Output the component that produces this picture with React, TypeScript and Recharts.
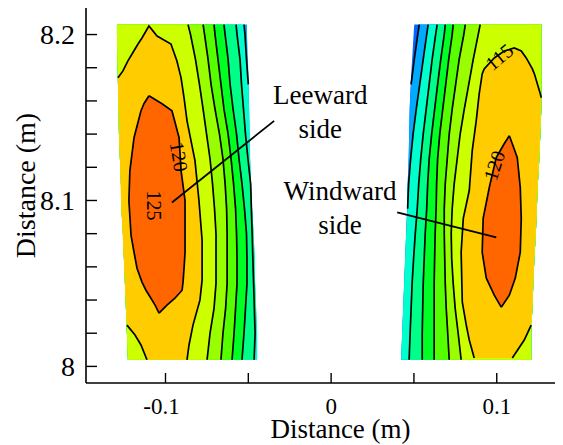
import React from 'react';
import { ComposedChart, XAxis, YAxis, Area, Line, ReferenceDot } from 'recharts';

const SERIF = '"Liberation Serif", "Times New Roman", Times, serif';

// Axis ticks
const X_TICKS = [-0.1, -0.05, 0, 0.05, 0.1];
const X_TICK_LABELS = ['-0.1', '', '0', '', '0.1'];
const Y_TICKS = [8, 8.02, 8.04, 8.06, 8.08, 8.1, 8.12, 8.14, 8.16, 8.18, 8.2];
const Y_TICK_LABELS = ['8', '', '', '', '', '8.1', '', '', '', '', '8.2'];

// Sampling heights (m), bottom to top, shared by both measurement panels
const ROW_Y = [8.004, 8.02, 8.035, 8.05, 8.065, 8.08, 8.095, 8.11, 8.125, 8.14, 8.155, 8.17, 8.185, 8.2, 8.206];

type Cell = number | null;

// Leeward panel: outline and open isolines (x position per row, null = outside panel)
const LEE_EDGE_LEFT = [-0.1227, -0.1233, -0.1239, -0.1245, -0.1251, -0.1257, -0.1266, -0.1269, -0.1275, -0.1281, -0.1284, -0.1287, -0.129, -0.1293, -0.1293];
const LEE_EDGE_RIGHT = [-0.0447, -0.0447, -0.0453, -0.0459, -0.0462, -0.0468, -0.0477, -0.0483, -0.0489, -0.0492, -0.0495, -0.0498, -0.0502, -0.0508, -0.0508];
const LEE_85: Cell[] = [null, null, null, null, null, null, null, null, null, null, null, -0.05, -0.0511, -0.052, -0.0526];
const LEE_90: Cell[] = [-0.0465, -0.0459, null, null, null, null, null, -0.0486, -0.0502, -0.0517, -0.0529, -0.0541, -0.055, -0.0568, -0.0574];
const LEE_95: Cell[] = [-0.0538, -0.0526, -0.0517, -0.0508, -0.0508, -0.0511, -0.0523, -0.0538, -0.0556, -0.0571, -0.0592, -0.061, -0.0622, -0.064, -0.0647];
const LEE_100: Cell[] = [-0.0598, -0.0586, -0.0577, -0.0568, -0.0568, -0.0571, -0.0577, -0.0589, -0.0604, -0.0622, -0.0647, -0.0665, -0.0683, -0.0701, -0.0707];
const LEE_105: Cell[] = [-0.0665, -0.0653, -0.0637, -0.0628, -0.0628, -0.0628, -0.0631, -0.064, -0.0653, -0.0674, -0.0701, -0.0725, -0.0743, -0.0764, -0.0773];
const LEE_110: Cell[] = [-0.0749, -0.0731, -0.0707, -0.0695, -0.0695, -0.0695, -0.0704, -0.0716, -0.0731, -0.0752, -0.0773, -0.0795, -0.0819, -0.0849, -0.0864];

// Leeward closed zones: [y, xLeft, xRight]
const LEE_115_ZONE = [
  [8.2045, -0.1112, -0.1082], [8.1979, -0.1142, -0.1039], [8.1943, -0.1166, -0.0967], [8.1883, -0.1202, -0.0943],
  [8.1841, -0.1227, -0.0931], [8.1781, -0.1257, -0.0918], [8.1739, -0.1287, -0.0906], [8.1619, -0.1284, -0.0888],
  [8.148, -0.1281, -0.087], [8.124, -0.1275, -0.0822], [8.1, -0.1269, -0.0798], [8.076, -0.1257, -0.0779],
  [8.052, -0.1245, -0.0779], [8.0399, -0.1239, -0.0792], [8.0249, -0.1233, -0.0834], [8.0189, -0.1184, -0.0846],
  [8.0129, -0.1148, -0.0858], [8.004, -0.1112, -0.087],
];
const LEE_120_ZONE = [
  [8.1631, -0.11, -0.11], [8.1583, -0.113, -0.1021], [8.1541, -0.1148, -0.0961], [8.1378, -0.119, -0.0918],
  [8.118, -0.1215, -0.0906], [8.1, -0.1221, -0.0882], [8.079, -0.1208, -0.0882], [8.0688, -0.119, -0.0882],
  [8.0592, -0.1172, -0.0888], [8.0508, -0.1142, -0.0894], [8.0459, -0.1118, -0.09], [8.0411, -0.1088, -0.0943],
  [8.0369, -0.1063, -0.0991], [8.0321, -0.1039, -0.1039],
];
// Leeward 115 isoline traces: [x, y]
const LEE_115_TRACE_A = [
  [-0.1287, 8.1739], [-0.1257, 8.1781], [-0.1227, 8.1841], [-0.1202, 8.1883], [-0.1166, 8.1943], [-0.1142, 8.1979],
  [-0.11, 8.2051], [-0.1051, 8.1991], [-0.0967, 8.1943], [-0.0931, 8.1841], [-0.0906, 8.1739], [-0.0888, 8.1619],
  [-0.087, 8.148], [-0.0822, 8.124], [-0.0798, 8.1], [-0.0779, 8.076], [-0.0779, 8.052], [-0.0792, 8.0399],
  [-0.0834, 8.0249], [-0.0846, 8.0189], [-0.0858, 8.0129], [-0.087, 8.004],
];
const LEE_115_TRACE_B = [[-0.1233, 8.0249], [-0.1184, 8.0189], [-0.1148, 8.0129], [-0.1112, 8.004]];

// Windward panel: outline and open isolines
const WIND_EDGE_LEFT = [0.0423, 0.0429, 0.0435, 0.0441, 0.0447, 0.0453, 0.0459, 0.0462, 0.0468, 0.0471, 0.0474, 0.048, 0.0489, 0.0498, 0.0502];
const WIND_EDGE_RIGHT = [0.1208, 0.1208, 0.1215, 0.1221, 0.1227, 0.1236, 0.1242, 0.1248, 0.1257, 0.1263, 0.1269, 0.1269, 0.1269, 0.1269, 0.1269];
const WIND_80: Cell[] = [null, null, null, null, null, null, null, null, null, null, null, 0.0483, 0.0502, 0.0523, 0.0532];
const WIND_85: Cell[] = [null, null, null, null, null, null, 0.0462, 0.0468, 0.048, 0.0495, 0.0514, 0.0535, 0.0556, 0.0577, 0.0586];
const WIND_90: Cell[] = [0.0471, 0.0477, 0.0483, 0.0489, 0.0498, 0.0508, 0.052, 0.0529, 0.0541, 0.0556, 0.0574, 0.0592, 0.061, 0.0631, 0.064];
const WIND_95: Cell[] = [0.055, 0.055, 0.0553, 0.0556, 0.0562, 0.0568, 0.0577, 0.0583, 0.0592, 0.0607, 0.0625, 0.0643, 0.0662, 0.0683, 0.0689];
const WIND_100: Cell[] = [0.0622, 0.0622, 0.0622, 0.0622, 0.0625, 0.0628, 0.0634, 0.0637, 0.0643, 0.0656, 0.0674, 0.0692, 0.071, 0.0731, 0.0737];
const WIND_105: Cell[] = [0.0713, 0.0704, 0.0695, 0.0689, 0.0686, 0.0683, 0.0683, 0.0689, 0.0701, 0.0713, 0.0731, 0.0752, 0.0773, 0.0801, 0.081];
const WIND_110: Cell[] = [0.0785, 0.0767, 0.0749, 0.0737, 0.0728, 0.0725, 0.0731, 0.0743, 0.0761, 0.0779, 0.0804, 0.0831, 0.0858, 0.0888, 0.09];

const WIND_115_ZONE = [
  [8.1919, 0.1094, 0.1118], [8.1901, 0.1045, 0.1148], [8.1859, 0.0985, 0.1178], [8.1793, 0.0924, 0.1215],
  [8.1763, 0.0912, 0.1227], [8.1643, 0.0894, 0.1263], [8.1619, 0.0888, 0.1269], [8.148, 0.0876, 0.1263],
  [8.13, 0.0852, 0.1257], [8.106, 0.0834, 0.1245], [8.0892, 0.0798, 0.1239], [8.0688, 0.0785, 0.1227],
  [8.0387, 0.0792, 0.1215], [8.0249, 0.0816, 0.1208], [8.0159, 0.0834, 0.1166], [8.0051, 0.0864, 0.1094],
];
const WIND_120_ZONE = [
  [8.139, 0.1076, 0.1076], [8.1342, 0.1045, 0.1094], [8.1258, 0.0997, 0.1124], [8.1078, 0.0955, 0.1142],
  [8.0892, 0.0918, 0.1148], [8.0688, 0.0912, 0.1142], [8.0532, 0.0937, 0.1112], [8.0429, 0.0985, 0.1076],
  [8.0357, 0.1027, 0.1027],
];
const WIND_115_TRACE_A = [
  [0.1269, 8.1619], [0.1263, 8.1643], [0.1227, 8.1763], [0.1215, 8.1793], [0.1178, 8.1859], [0.1148, 8.1901],
  [0.1106, 8.1919], [0.1045, 8.1901], [0.0985, 8.1859], [0.0924, 8.1793], [0.0912, 8.1763], [0.0894, 8.1643],
  [0.0876, 8.148], [0.0852, 8.13], [0.0834, 8.106], [0.0798, 8.0892], [0.0785, 8.0688], [0.0792, 8.0387],
  [0.0816, 8.0249], [0.0834, 8.0159], [0.0864, 8.0051],
];
const WIND_115_TRACE_B = [[0.1208, 8.0249], [0.1166, 8.0159], [0.1094, 8.0051]];

// Isoline value labels and callouts
const ISO_LABEL_TEXT = ['115', '120', '120', '125'];
const ISO_LABEL_X = [0.1015, 0.0985, -0.0918, -0.1069];
const ISO_LABEL_Y = [8.1865, 8.121, 8.1264, 8.097];
const ISO_LABEL_ANGLE = [-40, -72, 81, 90];

const CALLOUT_TEXT = [['Leeward', 'side'], ['Windward', 'side']];
const CALLOUT_X = [-0.0066, 0.0054];
const CALLOUT_Y = [8.1583, 8.1];
const CALLOUT_POINTERS = [
  [[-0.0961, 8.0988], [-0.0344, 8.148]],
  [[0.0399, 8.0928], [0.0997, 8.0778]],
];

const LEVEL_COLORS: Record<number, string> = {
  75: '#0066FF',
  80: '#00AAFF',
  85: '#00FFCC',
  90: '#00FF88',
  95: '#00FF22',
  100: '#55FF00',
  105: '#99FF00',
  110: '#CCFF00',
  115: '#FFCC00',
  120: '#FF6600',
};

const ISO_STROKE = '#000';
const ISO_WIDTH = 1.7;

const LEE_ISOLINES = [
  { level: 85, x: LEE_85 },
  { level: 90, x: LEE_90 },
  { level: 95, x: LEE_95 },
  { level: 100, x: LEE_100 },
  { level: 105, x: LEE_105 },
  { level: 110, x: LEE_110 },
];
const WIND_ISOLINES = [
  { level: 80, x: WIND_80 },
  { level: 85, x: WIND_85 },
  { level: 90, x: WIND_90 },
  { level: 95, x: WIND_95 },
  { level: 100, x: WIND_100 },
  { level: 105, x: WIND_105 },
  { level: 110, x: WIND_110 },
];

// Filled regions (value >= level), painted from low to high
const leeFills = [
  { key: 'lee-80', level: 80, rows: ROW_Y.map((y, i) => ({ y, range: [LEE_EDGE_LEFT[i], LEE_EDGE_RIGHT[i]] })) },
  ...LEE_ISOLINES.map(({ level, x }) => ({
    key: `lee-${level}`,
    level,
    rows: ROW_Y.map((y, i) => ({ y, range: [LEE_EDGE_LEFT[i], x[i] ?? LEE_EDGE_RIGHT[i]] })),
  })),
];
const windFills = [
  { key: 'wind-75', level: 75, rows: ROW_Y.map((y, i) => ({ y, range: [WIND_EDGE_LEFT[i], WIND_EDGE_RIGHT[i]] })) },
  ...WIND_ISOLINES.map(({ level, x }) => ({
    key: `wind-${level}`,
    level,
    rows: ROW_Y.map((y, i) => ({ y, range: [x[i] ?? WIND_EDGE_LEFT[i], WIND_EDGE_RIGHT[i]] })),
  })),
];
const zoneRows = (z: number[][]) => z.map(([y, a, b]) => ({ y, range: [a, b] }));
const traceRows = (p: number[][]) => p.map(([x, y]) => ({ x, y }));
const isoRows = (x: Cell[]) => ROW_Y.map((y, i) => ({ y, x: x[i] }));

const openLines = [
  ...LEE_ISOLINES.map((l) => ({ key: `lee-line-${l.level}`, rows: isoRows(l.x) })),
  ...WIND_ISOLINES.map((l) => ({ key: `wind-line-${l.level}`, rows: isoRows(l.x) })),
  { key: 'lee-115-a', rows: traceRows(LEE_115_TRACE_A) },
  { key: 'lee-115-b', rows: traceRows(LEE_115_TRACE_B) },
  { key: 'wind-115-a', rows: traceRows(WIND_115_TRACE_A) },
  { key: 'wind-115-b', rows: traceRows(WIND_115_TRACE_B) },
];

const XTick = (props: any) => {
  const { x, y, index } = props;
  const label = X_TICK_LABELS[index] ?? '';
  return (
    <g>
      <line x1={x} y1={y} x2={x} y2={y - 10} stroke="#000" strokeWidth={1.4} />
      {label && (
        <text x={x} y={y + 31} dx={label.startsWith('-') ? -4 : 0} textAnchor="middle" fontSize={23} fontFamily={SERIF} fill="#000">
          {label}
        </text>
      )}
    </g>
  );
};

const YTick = (props: any) => {
  const { x, y, index } = props;
  const label = Y_TICK_LABELS[index] ?? '';
  return (
    <g>
      <line x1={x} y1={y} x2={x + 11} y2={y} stroke="#000" strokeWidth={1.4} />
      {label && (
        <text x={x - 11} y={y} dy="0.34em" textAnchor="end" fontSize={28} fontFamily={SERIF} fill="#000">
          {label}
        </text>
      )}
    </g>
  );
};

const XTitle = (props: any) => {
  const vb = props.viewBox || { x: 78, y: 375, width: 477, height: 62 };
  return (
    <text x={vb.x + vb.width / 2 + 16} y={vb.y + 55} textAnchor="middle" fontSize={27} fontFamily={SERIF} fill="#000">
      Distance (m)
    </text>
  );
};

const YTitle = (props: any) => {
  const vb = props.viewBox || { x: 0, y: 0, width: 78, height: 375 };
  const cx = vb.x + 27;
  const cy = vb.y + vb.height / 2 - 10;
  return (
    <text x={cx} y={cy} transform={`rotate(-90 ${cx} ${cy})`} textAnchor="middle" fontSize={28} fontFamily={SERIF} fill="#000">
      Distance (m)
    </text>
  );
};

const isoLabelShape = (text: string, angle: number) => (p: any) => (
  <text
    x={p.cx}
    y={p.cy}
    transform={`rotate(${angle} ${p.cx} ${p.cy})`}
    textAnchor="middle"
    dominantBaseline="central"
    fontSize={20}
    fontFamily={SERIF}
    fill="#000"
  >
    {text}
  </text>
);

const calloutShape = (lines: string[]) => (p: any) => (
  <text x={p.cx} y={p.cy} textAnchor="middle" fontSize={27} fontFamily={SERIF} fill="#000">
    {lines.map((t, i) => (
      <tspan key={t + i} x={p.cx} dy={i === 0 ? 0 : 34}>
        {t}
      </tspan>
    ))}
  </text>
);

export default function App() {
  return (
    <ComposedChart width={555} height={437} layout="vertical" margin={{ top: 0, right: 0, bottom: 0, left: 0 }}>
      <XAxis
        type="number"
        domain={[-0.148, 0.14]}
        allowDataOverflow
        ticks={X_TICKS}
        interval={0}
        height={62}
        tickSize={0}
        tickMargin={0}
        tickLine={false}
        tick={<XTick />}
        axisLine={{ stroke: '#000', strokeWidth: 1.6 }}
        label={(p: any) => <XTitle {...p} />}
      />
      <YAxis
        type="number"
        dataKey="y"
        domain={[7.99, 8.216]}
        reversed
        allowDataOverflow
        ticks={Y_TICKS}
        interval={0}
        width={78}
        tickSize={0}
        tickMargin={0}
        tickLine={false}
        tick={<YTick />}
        axisLine={{ stroke: '#000', strokeWidth: 1.6 }}
        label={(p: any) => <YTitle {...p} />}
      />

      {[...leeFills, ...windFills].map((f) => (
        <Area
          key={f.key}
          data={f.rows}
          dataKey="range"
          type="linear"
          stroke="none"
          fill={LEVEL_COLORS[f.level]}
          fillOpacity={1}
          dot={false}
          activeDot={false}
          isAnimationActive={false}
        />
      ))}
      <Area data={zoneRows(LEE_115_ZONE)} dataKey="range" type="linear" stroke="none" fill={LEVEL_COLORS[115]} fillOpacity={1} dot={false} activeDot={false} isAnimationActive={false} />
      <Area data={zoneRows(WIND_115_ZONE)} dataKey="range" type="linear" stroke="none" fill={LEVEL_COLORS[115]} fillOpacity={1} dot={false} activeDot={false} isAnimationActive={false} />
      <Area data={zoneRows(LEE_120_ZONE)} dataKey="range" type="linear" stroke={ISO_STROKE} strokeWidth={ISO_WIDTH} fill={LEVEL_COLORS[120]} fillOpacity={1} dot={false} activeDot={false} isAnimationActive={false} />
      <Area data={zoneRows(WIND_120_ZONE)} dataKey="range" type="linear" stroke={ISO_STROKE} strokeWidth={ISO_WIDTH} fill={LEVEL_COLORS[120]} fillOpacity={1} dot={false} activeDot={false} isAnimationActive={false} />

      {openLines.map((l) => (
        <Line key={l.key} data={l.rows} dataKey="x" type="linear" stroke={ISO_STROKE} strokeWidth={ISO_WIDTH} dot={false} activeDot={false} isAnimationActive={false} />
      ))}
      {CALLOUT_POINTERS.map((seg, i) => (
        <Line
          key={`pointer-${i}`}
          data={traceRows(seg)}
          dataKey="x"
          type="linear"
          stroke="#000"
          strokeWidth={1.8}
          dot={false}
          activeDot={false}
          isAnimationActive={false}
        />
      ))}

      {ISO_LABEL_TEXT.map((t, i) => (
        <ReferenceDot key={`iso-${i}`} x={ISO_LABEL_X[i]} y={ISO_LABEL_Y[i]} r={0} shape={isoLabelShape(t, ISO_LABEL_ANGLE[i])} />
      ))}
      {CALLOUT_TEXT.map((lines, i) => (
        <ReferenceDot key={`callout-${i}`} x={CALLOUT_X[i]} y={CALLOUT_Y[i]} r={0} shape={calloutShape(lines)} />
      ))}
    </ComposedChart>
  );
}
